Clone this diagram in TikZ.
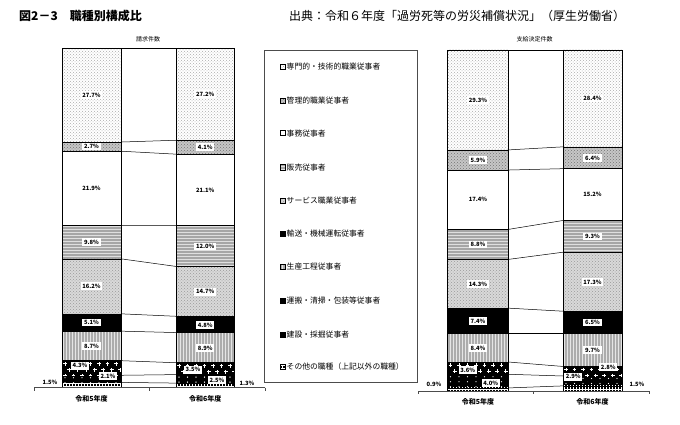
\documentclass[tikz,border=0pt]{standalone}
\usepackage{fontspec}
\setmainfont{Noto Sans CJK JP}
\usetikzlibrary{patterns}
\newcommand\pluspatfill[4]{%
  \begin{scope}
    \clip (#1,#2) rectangle (#3,#4);
    \foreach \r in {0,1,2}{\foreach \c in {0,...,7}{%
      \pgfmathsetmacro\xx{#1+3+\c*8.5+mod(\r,2)*4.25}%
      \pgfmathsetmacro\yy{#2+3.2+\r*6}%
      \draw[white,line width=0.9pt] (\xx,\yy) ++(-1.8,0) -- ++(3.6,0) (\xx,\yy) ++(0,-1.8) -- ++(0,3.6);}}
  \end{scope}}
\newcommand\wdotsfill[4]{%
  \begin{scope}
    \clip (#1,#2) rectangle (#3,#4);
    \foreach \r in {0,1,2}{\foreach \c in {0,...,7}{%
      \pgfmathsetmacro\xx{#1+3+\c*8.5}%
      \pgfmathsetmacro\yy{#2+2.5+\r*5}%
      \fill[white] (\xx,\yy) circle (0.7);}}
  \end{scope}}
\begin{document}
\begin{tikzpicture}[x=1pt,y=-1pt,
  seg/.style={draw=black,line width=0.6pt},
  senmon/.style={pattern=crosshatch dots,pattern color=gray!65},
  kanri/.style={preaction={fill=gray!45},pattern=crosshatch dots,pattern color=gray!90!black},
  jimu/.style={fill=white},
  hanbai/.style={preaction={fill=gray!70},pattern=horizontal lines,pattern color=gray!25},
  service/.style={preaction={fill=gray!30},pattern=crosshatch dots,pattern color=gray!80},
  yuso/.style={fill=black},
  seisan/.style={preaction={fill=gray!65},pattern=vertical lines,pattern color=gray!20},
  unpan/.style={fill=black},
  kensetsu/.style={fill=black},
  sonota/.style={preaction={fill=black},pattern=grid,pattern color=white},
  pct/.style={fill=white,inner sep=1.6pt,font=\fontsize{5.8}{6}\selectfont\bfseries},
  conn/.style={draw=black,line width=0.5pt},
  outline/.style={draw=black,line width=0.9pt},
  axis/.style={draw=gray!60!black,line width=0.6pt},
  cat/.style={font=\fontsize{7}{7}\selectfont\bfseries},
  sub/.style={font=\fontsize{6}{6}\selectfont},
  leg/.style={anchor=west,inner sep=0pt,font=\fontsize{7.8}{8}\selectfont},
  legmark/.style={draw=black,line width=0.6pt,minimum size=5pt,inner sep=0pt}
]
\useasboundingbox[fill=white] (0,0) rectangle (680,425);

% titles
\node[anchor=west,inner sep=0pt,font=\fontsize{12}{12}\selectfont\bfseries] (title) at (19,15.7) {図2－3　職種別構成比};
\node[anchor=west,inner sep=0pt,font=\fontsize{12}{12}\selectfont] (source) at (289,15.7) {出典：令和６年度「過労死等の労災補償状況」（厚生労働省）};
\node[sub] (subL) at (148,39) {請求件数};
\node[sub] (subR) at (534.5,39.5) {支給決定件数};

% ---------- bar A ----------
\foreach \s/\a/\b in {senmon/48/142.04, kanri/142.04/151.21, jimu/151.21/225.56, hanbai/225.56/258.83, service/258.83/313.83, yuso/313.83/331.14, seisan/331.14/360.68, unpan/360.68/375.28, kensetsu/375.28/382.41, sonota/382.41/387.5}
  \path[seg,\s] (62,\a) rectangle (121,\b);
\pluspatfill{62}{360.68}{121}{375.28}
\wdotsfill{62}{375.28}{121}{382.41}
\draw[outline] (62,48) rectangle (121,387.5);
% ---------- bar B ----------
\foreach \s/\a/\b in {senmon/48/140.25, kanri/140.25/154.16, jimu/154.16/225.72, hanbai/225.72/266.42, service/266.42/316.28, yuso/316.28/332.56, seisan/332.56/362.74, unpan/362.74/374.61, kensetsu/374.61/383.09, sonota/383.09/387.5}
  \path[seg,\s] (176,\a) rectangle (234.5,\b);
\pluspatfill{176}{362.74}{234.5}{374.61}
\wdotsfill{176}{374.61}{234.5}{383.09}
\draw[outline] (176,48) rectangle (234.5,387.5);
% ---------- bar C ----------
\foreach \s/\a/\b in {senmon/50/149.91, kanri/149.91/170.03, jimu/170.03/229.37, hanbai/229.37/259.37, service/259.37/308.14, yuso/308.14/333.37, seisan/333.37/362.02, unpan/362.02/374.29, kensetsu/374.29/387.93, sonota/387.93/391}
  \path[seg,\s] (447.5,\a) rectangle (508.5,\b);
\pluspatfill{447.5}{362.02}{508.5}{374.29}
\wdotsfill{447.5}{374.29}{508.5}{387.93}
\draw[outline] (447.5,50) rectangle (508.5,391);
% ---------- bar D ----------
\foreach \s/\a/\b in {senmon/50/146.84, kanri/146.84/168.67, jimu/168.67/220.5, hanbai/220.5/252.21, service/252.21/311.21, yuso/311.21/333.37, seisan/333.37/366.45, unpan/366.45/376.0, kensetsu/376.0/385.89, sonota/385.89/391}
  \path[seg,\s] (563,\a) rectangle (622,\b);
\pluspatfill{563}{366.45}{622}{376.0}
\wdotsfill{563}{376.0}{622}{385.89}
\draw[outline] (563,50) rectangle (622,391);

% ---------- connector coordinates ----------
\foreach \i/\y in {0/48,1/142.04,2/151.21,3/225.56,4/258.83,5/313.83,6/331.14,7/360.68,8/375.28,9/382.41,10/387.5}
  \coordinate (Ar\i) at (121,\y);
\foreach \i/\y in {0/48,1/140.25,2/154.16,3/225.72,4/266.42,5/316.28,6/332.56,7/362.74,8/374.61,9/383.09,10/387.5}
  \coordinate (Bl\i) at (176,\y);
\foreach \i/\y in {0/50,1/149.91,2/170.03,3/229.37,4/259.37,5/308.14,6/333.37,7/362.02,8/374.29,9/387.93,10/391}
  \coordinate (Cr\i) at (508.5,\y);
\foreach \i/\y in {0/50,1/146.84,2/168.67,3/220.5,4/252.21,5/311.21,6/333.37,7/366.45,8/376.0,9/385.89,10/391}
  \coordinate (Dl\i) at (563,\y);
\foreach \i in {0,...,10}{
  \draw[conn] (Ar\i) -- (Bl\i);
  \draw[conn] (Cr\i) -- (Dl\i);
}

% ---------- axes ----------
\coordinate (axL0) at (34,387.5); \coordinate (axLm) at (149.5,387.5); \coordinate (axL1) at (265,387.5);
\coordinate (axR0) at (418,391); \coordinate (axRm) at (533.5,391); \coordinate (axR1) at (649,391);
\draw[axis] (axL0) -- (axL1);
\draw[axis] (axR0) -- (axR1);
\foreach \p in {axL0,axLm,axL1,axR0,axRm,axR1}
  \draw[axis] (\p) -- ++(0,3);

% ---------- percentage labels ----------
\node[pct] (a1) at (91.5,95) {27.7\%};
\node[pct] (a2) at (91.5,146.6) {2.7\%};
\node[pct] (a3) at (91.5,188.4) {21.9\%};
\node[pct] (a4) at (91.5,242.2) {9.8\%};
\node[pct] (a5) at (91.5,286.3) {16.2\%};
\node[pct] (a6) at (91.5,322.5) {5.1\%};
\node[pct] (a7) at (91.5,345.9) {8.7\%};
\node[pct] (a8) at (80,365.7) {4.3\%};
\node[pct] (a9) at (108,376) {2.1\%};
\node[pct] (a10) at (50,382.7) {1.5\%};

\node[pct] (b1) at (205.25,94.1) {27.2\%};
\node[pct] (b2) at (205.25,147.2) {4.1\%};
\node[pct] (b3) at (205.25,189.9) {21.1\%};
\node[pct] (b4) at (205.25,246.6) {12.0\%};
\node[pct] (b5) at (205.25,291.8) {14.7\%};
\node[pct] (b6) at (205.25,325) {4.8\%};
\node[pct] (b7) at (205.25,348) {8.9\%};
\node[pct] (b8) at (193,369.7) {3.5\%};
\node[pct] (b9) at (217,380.3) {2.5\%};
\node[pct] (b10) at (247,383) {1.3\%};

\node[pct] (c1) at (478,100) {29.3\%};
\node[pct] (c2) at (478,160.3) {5.9\%};
\node[pct] (c3) at (478,199.7) {17.4\%};
\node[pct] (c4) at (478,244.6) {8.8\%};
\node[pct] (c5) at (478,284) {14.3\%};
\node[pct] (c6) at (478,321) {7.4\%};
\node[pct] (c7) at (478,347.9) {8.4\%};
\node[pct] (c8) at (467.7,370.3) {3.6\%};
\node[pct] (c9) at (490.7,383.3) {4.0\%};
\node[pct] (c10) at (434,384) {0.9\%};

\node[pct] (d1) at (592.5,98.6) {28.4\%};
\node[pct] (d2) at (592.5,158) {6.4\%};
\node[pct] (d3) at (592.5,194.6) {15.2\%};
\node[pct] (d4) at (592.5,236.6) {9.3\%};
\node[pct] (d5) at (592.5,282) {17.3\%};
\node[pct] (d6) at (592.5,322.5) {6.5\%};
\node[pct] (d7) at (592.5,350.3) {9.7\%};
\node[pct] (d8) at (608.3,367) {2.8\%};
\node[pct] (d9) at (573.3,376.7) {2.9\%};
\node[pct] (d10) at (637,384) {1.5\%};

% ---------- category labels ----------
\node[cat] (catA) at (91.5,399) {令和5年度};
\node[cat] (catB) at (205.25,399) {令和6年度};
\node[cat] (catC) at (478,402) {令和5年度};
\node[cat] (catD) at (592.5,402) {令和6年度};

% ---------- legend ----------
\draw[draw=gray!60!black,line width=0.7pt] (264,50) rectangle (417,382);
\foreach \i/\s/\y/\t in {1/senmon/66.7/専門的・技術的職業従事者,
                         2/kanri/100.7/管理的職業従事者,
                         3/jimu/133.3/事務従事者,
                         4/hanbai/167.3/販売従事者,
                         5/service/200.7/サービス職業従事者,
                         6/yuso/234/輸送・機械運転従事者,
                         7/seisan/266.7/生産工程従事者,
                         8/unpan/300.7/運搬・清掃・包装等従事者,
                         9/kensetsu/334.3/建設・採掘従事者,
                         10/sonota/366.7/その他の職種（上記以外の職種）}{
  \node[legmark,\s] (m\i) at (282.5,\y) {};
  \node[leg] (l\i) at (286.5,\y) {\t};
}
\end{tikzpicture}
\end{document}
